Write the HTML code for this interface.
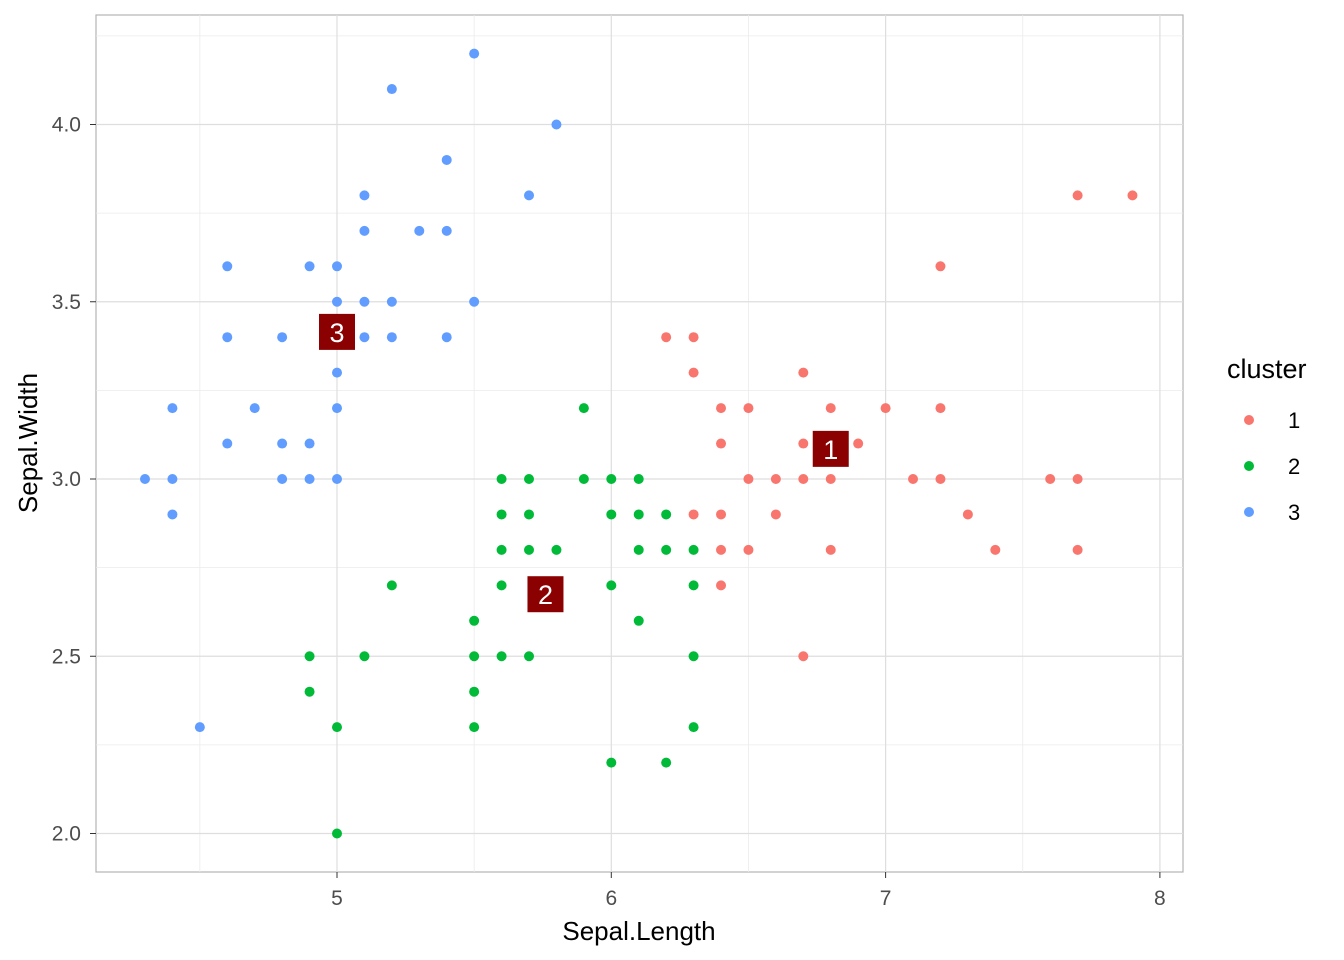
<!DOCTYPE html>
<html><head><meta charset="utf-8"><style>
body{margin:0;background:#fff;}
svg{display:block;font-family:"Liberation Sans",sans-serif;}
</style></head><body>
<svg id="chart" width="1344" height="960">
<rect x="96" y="15" width="1087" height="857" fill="#fff" stroke="#b3b3b3" stroke-width="1.2"/>
<g id="grid"></g>
<g id="pts"></g>
<g id="cent"></g>
<g id="ticks"></g>
<text x="639" y="940" font-size="26" text-anchor="middle" fill="#000">Sepal.Length</text>
<text transform="translate(37,443) rotate(-90)" font-size="26" text-anchor="middle" fill="#000">Sepal.Width</text>
<g>
<text x="1227" y="378" font-size="27" fill="#000">cluster</text>
<g id="leg"></g>
</g>
</svg>
<script>
const xTicks=[5,6,7,8];
const yTicks=[2.0,2.5,3.0,3.5,4.0];
const xMinor=[4.5,5.5,6.5,7.5];
const yMinor=[2.25,2.75,3.25,3.75,4.25];
const clusters=["1","2","3"];
const colors={"1":"#F8766D","2":"#00BA38","3":"#619CFF"};
const c1x=[6.2,6.3,6.3,6.3,6.4,6.4,6.4,6.4,6.4,6.5,6.5,6.5,6.6,6.6,6.7,6.7,6.7,6.7,6.8,6.8,6.8,6.9,7.0,7.1,7.2,7.2,7.2,7.3,7.4,7.6,7.7,7.7,7.7,7.9];
const c1y=[3.4,3.4,3.3,2.9,3.2,3.1,2.9,2.8,2.7,3.2,3.0,2.8,3.0,2.9,3.3,3.1,3.0,2.5,3.2,3.0,2.8,3.1,3.2,3.0,3.6,3.2,3.0,2.9,2.8,3.0,3.8,3.0,2.8,3.8];
const c2x=[4.9,4.9,5.0,5.0,5.1,5.2,5.5,5.5,5.5,5.5,5.6,5.6,5.6,5.6,5.6,5.7,5.7,5.7,5.7,5.8,5.9,5.9,6.0,6.0,6.0,6.0,6.1,6.1,6.1,6.1,6.2,6.2,6.2,6.3,6.3,6.3,6.3];
const c2y=[2.5,2.4,2.3,2.0,2.5,2.7,2.6,2.5,2.4,2.3,3.0,2.9,2.8,2.7,2.5,3.0,2.9,2.8,2.5,2.8,3.2,3.0,3.0,2.9,2.7,2.2,3.0,2.9,2.8,2.6,2.9,2.8,2.2,2.8,2.7,2.5,2.3];
const c3x=[4.3,4.4,4.4,4.4,4.5,4.6,4.6,4.6,4.7,4.8,4.8,4.8,4.9,4.9,4.9,5.0,5.0,5.0,5.0,5.0,5.0,5.1,5.1,5.1,5.1,5.2,5.2,5.2,5.3,5.4,5.4,5.4,5.5,5.5,5.7,5.8];
const c3y=[3.0,3.2,3.0,2.9,2.3,3.6,3.4,3.1,3.2,3.4,3.1,3.0,3.6,3.1,3.0,3.6,3.5,3.4,3.3,3.2,3.0,3.8,3.7,3.5,3.4,4.1,3.5,3.4,3.7,3.9,3.7,3.4,4.2,3.5,3.8,4.0];
const centX=[6.80,5.76,5.0];
const centY=[3.085,2.675,3.415];
const NS="http://www.w3.org/2000/svg";
const X=v=>337+(v-5)*274.3;
const Y=v=>479-(v-3)*354.5;
function mk(tag,parent,attrs){const e=document.createElementNS(NS,tag);for(const k in attrs)e.setAttribute(k,attrs[k]);parent.appendChild(e);return e;}
const grid=document.getElementById('grid');
xMinor.forEach(v=>{const l=mk('line',grid,{x1:X(v),x2:X(v),y1:15,y2:872,stroke:'#ebebeb','stroke-width':0.8});

});
yMinor.forEach(v=>{const l=mk('line',grid,{x1:96,x2:1183,y1:Y(v),y2:Y(v),stroke:'#ebebeb','stroke-width':0.8});

});
xTicks.forEach(v=>{const l=mk('line',grid,{x1:X(v),x2:X(v),y1:15,y2:872,stroke:'#dedede','stroke-width':1.2});

});
yTicks.forEach(v=>{const l=mk('line',grid,{x1:96,x2:1183,y1:Y(v),y2:Y(v),stroke:'#dedede','stroke-width':1.2});

});
const ticks=document.getElementById('ticks');
xTicks.forEach(v=>{mk('line',ticks,{x1:X(v),x2:X(v),y1:872,y2:878,stroke:'#333'});
const t=mk('text',ticks,{x:X(v),y:905,'font-size':21,'text-anchor':'middle',fill:'#4d4d4d'});t.textContent=v;

});
yTicks.forEach(v=>{mk('line',ticks,{x1:90,x2:96,y1:Y(v),y2:Y(v),stroke:'#333'});
const t=mk('text',ticks,{x:81,y:Y(v)+7,'font-size':21,'text-anchor':'end',fill:'#4d4d4d'});t.textContent=v.toFixed(1);

});
const pts=document.getElementById('pts');
[[c1x,c1y,"1"],[c2x,c2y,"2"],[c3x,c3y,"3"]].forEach(([xs,ys,c])=>{xs.forEach((xv,i)=>{
const p=mk('circle',pts,{cx:X(xv),cy:Y(ys[i]),r:5,fill:colors[c]});

});});
const cent=document.getElementById('cent');
centX.forEach((xv,i)=>{const cx=X(xv),cy=Y(centY[i]);
const r=mk('rect',cent,{x:cx-18,y:cy-18,width:36,height:36,fill:'#8B0000'});


const t=mk('text',cent,{x:cx,y:cy+10,'font-size':27,'text-anchor':'middle',fill:'#fff'});t.textContent=clusters[i];

});
const leg=document.getElementById('leg');
clusters.forEach((c,i)=>{const y=420+i*46;
const k=mk('circle',leg,{cx:1249,cy:y,r:5,fill:colors[c]});


const t=mk('text',leg,{x:1288,y:y+8,'font-size':22,fill:'#000'});t.textContent=c;

});
</script>
</body></html>
